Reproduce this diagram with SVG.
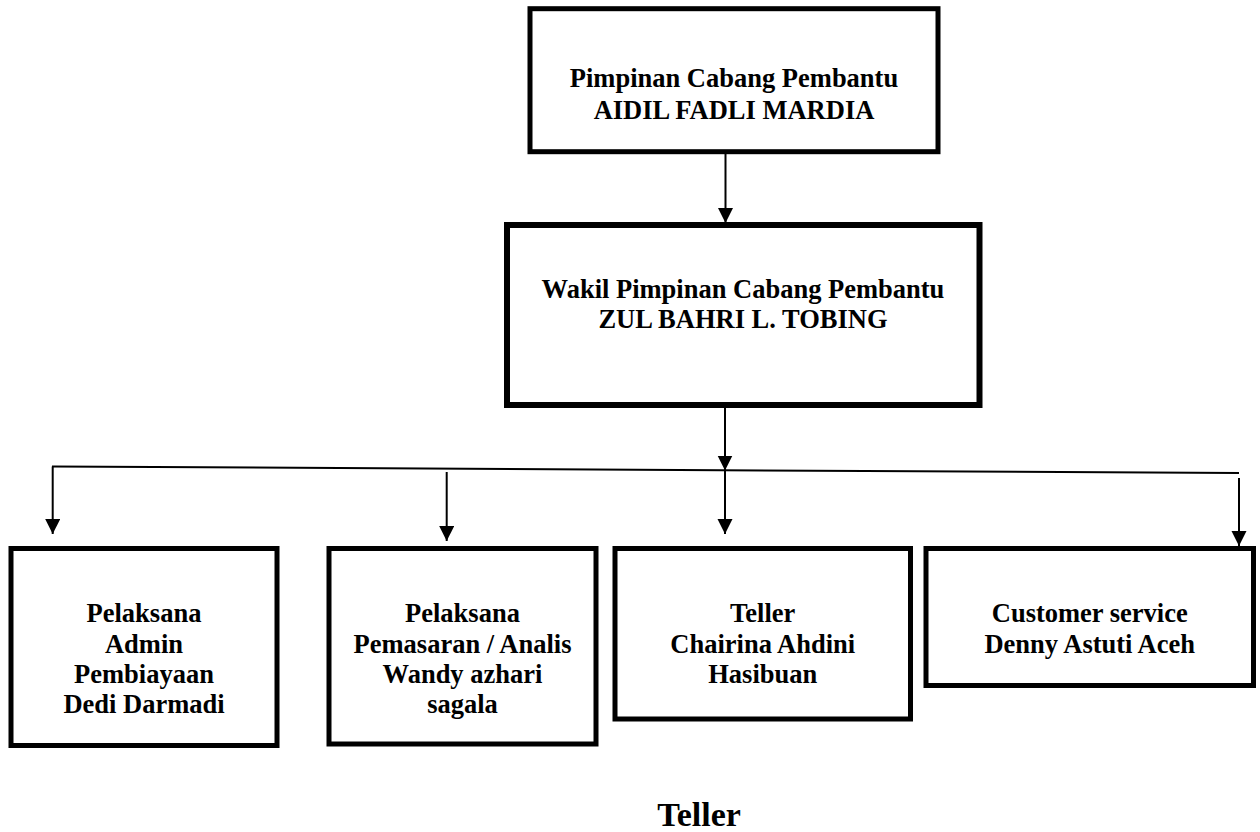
<svg xmlns="http://www.w3.org/2000/svg" width="1260" height="832" viewBox="0 0 1260 832">
<style>
.box{fill:#fff;stroke:#000;stroke-width:5}
.t{font-family:"Liberation Serif","Times New Roman",serif;font-weight:bold;font-size:26.5px;text-anchor:middle;fill:#000}
.c{stroke:#000;stroke-width:2;fill:none}
</style>
<defs>
<marker id="ah" markerUnits="userSpaceOnUse" markerWidth="16" markerHeight="16" refX="15" refY="7.5" orient="auto">
<path d="M0,0 L15,7.5 L0,15 z" fill="#000"/>
</marker>
</defs>
<rect width="1260" height="832" fill="#fff"/>
<g id="connectors">
<line class="c" x1="725.5" y1="154" x2="725.5" y2="223" marker-end="url(#ah)"/>
<line class="c" x1="725" y1="407" x2="725" y2="470.5" marker-end="url(#ah)"/>
<line class="c" x1="52" y1="466.5" x2="1239" y2="473"/>
<line class="c" x1="52.7" y1="466.5" x2="52.7" y2="534" marker-end="url(#ah)"/>
<line class="c" x1="446.7" y1="472" x2="446.7" y2="541" marker-end="url(#ah)"/>
<line class="c" x1="725" y1="470" x2="725" y2="534" marker-end="url(#ah)"/>
<line class="c" x1="1239" y1="478" x2="1239" y2="546" marker-end="url(#ah)"/>
</g>
<g id="pimpinan">
<rect class="box" x="530" y="8.7" width="408" height="143"/>
<text class="t" x="734" y="87">Pimpinan Cabang Pembantu</text>
<text class="t" x="734" y="118.5">AIDIL FADLI MARDIA</text>
</g>
<g id="wakil">
<rect class="box" style="stroke-width:6" x="507" y="225" width="472.5" height="180"/>
<text class="t" x="743" y="298.3">Wakil Pimpinan Cabang Pembantu</text>
<text class="t" x="743" y="328.3">ZUL BAHRI L. TOBING</text>
</g>
<g id="admin">
<rect class="box" x="11" y="548.5" width="266" height="197"/>
<text class="t" x="144" y="621.7">Pelaksana</text>
<text class="t" x="144" y="652.7">Admin</text>
<text class="t" x="144" y="682.7">Pembiayaan</text>
<text class="t" x="144" y="713.3">Dedi Darmadi</text>
</g>
<g id="pemasaran">
<rect class="box" x="329" y="548.5" width="267" height="195.5"/>
<text class="t" x="462.5" y="621.7">Pelaksana</text>
<text class="t" x="462.5" y="652.7">Pemasaran / Analis</text>
<text class="t" x="462.5" y="682.7">Wandy azhari</text>
<text class="t" x="462.5" y="713.3">sagala</text>
</g>
<g id="teller">
<rect class="box" x="615" y="548.5" width="295.5" height="170.5"/>
<text class="t" x="762.75" y="621.7">Teller</text>
<text class="t" x="762.75" y="652.7">Chairina Ahdini</text>
<text class="t" x="762.75" y="682.7">Hasibuan</text>
</g>
<g id="cs">
<rect class="box" x="926" y="548.5" width="327.5" height="137"/>
<text class="t" x="1089.75" y="621.7">Customer service</text>
<text class="t" x="1089.75" y="652.7">Denny Astuti Aceh</text>
</g>
<g id="caption">
<text class="t" style="font-size:34px" x="699" y="826">Teller</text>
</g>
</svg>
